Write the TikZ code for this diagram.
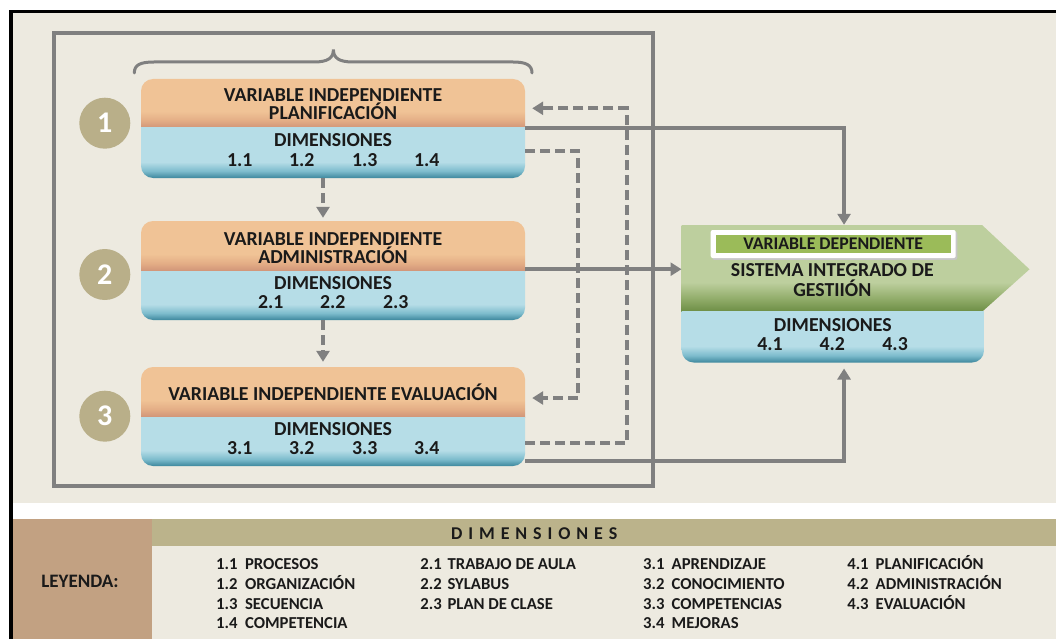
\documentclass[tikz,border=0pt]{standalone}
\usepackage{fontspec}
\setmainfont{Carlito}
\usetikzlibrary{arrows.meta}
\definecolor{bgb}{HTML}{EDEAE0}
\definecolor{orL}{HTML}{F0C396}
\definecolor{orM}{HTML}{E4AE86}
\definecolor{orD}{HTML}{D09478}
\definecolor{blL}{HTML}{B6DDE7}
\definecolor{blM}{HTML}{7DBCCD}
\definecolor{blD}{HTML}{3D879D}
\definecolor{grL}{HTML}{BDCF9E}
\definecolor{grM}{HTML}{93AE6C}
\definecolor{grD}{HTML}{6C8D44}
\definecolor{vgreen}{HTML}{9BBB59}
\definecolor{lc}{HTML}{808080}
\definecolor{circ}{HTML}{B9AF89}
\definecolor{hdr}{HTML}{BBB38B}
\definecolor{legb}{HTML}{C2A182}
\definecolor{txtc}{HTML}{1A1A1A}
\pgfdeclareverticalshading{orsh}{100bp}{color(0bp)=(orD); color(25bp)=(orD); color(33bp)=(orM); color(42bp)=(orL); color(100bp)=(orL)}
\pgfdeclareverticalshading{blsh}{100bp}{color(0bp)=(blD); color(25bp)=(blD); color(32bp)=(blM); color(41bp)=(blL); color(100bp)=(blL)}
\pgfdeclareverticalshading{grsh}{100bp}{color(0bp)=(grD); color(25bp)=(grD); color(33bp)=(grM); color(42bp)=(grL); color(100bp)=(grL)}
\newcommand{\ls}{\hspace{5.9pt}}
\begin{document}
\begin{tikzpicture}[x=1pt,y=-1pt,
  txt/.style={inner sep=0pt, anchor=base, font=\bfseries\fontsize{19.8}{19.8}\selectfont, text=txtc},
  leg/.style={inner sep=0pt, anchor=base west, font=\bfseries\fontsize{16.7}{16.7}\selectfont, text=txtc},
  part/.style={inner sep=0pt, minimum width=384pt},
  conn/.style={draw=lc, line width=4pt},
  dconn/.style={conn, dash pattern=on 10pt off 5pt},
  tip/.style={-{Triangle[length=11pt,width=13pt]}},
  num/.style={circle, fill=circ, minimum size=51pt, inner sep=0pt, text=white, font=\bfseries\fontsize{30}{30}\selectfont}]
\useasboundingbox (0,0) rectangle (1056,639);
% backgrounds
\fill[bgb] (12.5,13.3) rectangle (1056,503);
\fill[legb] (12.5,519) rectangle (151.5,639);
\fill[hdr] (151.5,519) rectangle (1056,546);
\fill[bgb] (151.5,546) rectangle (1056,639);
\draw[black, line width=3.3pt] (11,639) -- (11,11.7) -- (1056,11.7);
% gray frame
\draw[lc, line width=4pt] (53.7,33) rectangle (652.7,486);
% brace
\draw[lc, line width=3pt, line cap=round] (134.3,73) .. controls (134.3,65) and (140,62) .. (154,62) -- (314,62) .. controls (328,62) and (333.4,58) .. (333.4,49.5) .. controls (333.4,58) and (339,62) .. (353,62) -- (513,62) .. controls (526,62) and (532,65) .. (532,73);
% boxes
\foreach \yt/\ym/\yb in {79/128/178, 221/271/320, 367/417/466}{
  \begin{scope}
    \clip[rounded corners=12pt] (141,\yt) rectangle (525,\yb);
    \shade[shading=orsh] (141,\yt) rectangle (525,\ym);
    \shade[shading=blsh] (141,\ym) rectangle (525,\yb);
  \end{scope}
}
\node[part, minimum height=49pt] (b1t) at (333,103.5) {};
\node[part, minimum height=50pt] (b1d) at (333,153) {};
\node[part, minimum height=50pt] (b2t) at (333,246) {};
\node[part, minimum height=49pt] (b2d) at (333,295.5) {};
\node[part, minimum height=50pt] (b3t) at (333,392) {};
\node[part, minimum height=49pt] (b3d) at (333,441.5) {};
% circles
\node[num] (c1) at (104.8,123.2) {1};
\node[num] (c2) at (104.8,274.5) {2};
\node[num] (c3) at (104.8,416.2) {3};
% box texts
\node[txt] (t1a) at (333,101.7) {VARIABLE INDEPENDIENTE};
\node[txt] (t1b) at (333,120) {PLANIFICACIÓN};
\node[txt] (d1) at (333,146.7) {DIMENSIONES};
\node[txt] (n11) at (239.7,166.7) {1.1};
\node[txt] (n12) at (301.7,166.7) {1.2};
\node[txt] (n13) at (364.7,166.7) {1.3};
\node[txt] (n14) at (426.7,166.7) {1.4};
\node[txt] (t2a) at (333,245) {VARIABLE INDEPENDIENTE};
\node[txt] (t2b) at (333,263.3) {ADMINISTRACIÓN};
\node[txt] (d2) at (333,289.3) {DIMENSIONES};
\node[txt] (n21) at (270.7,308.3) {2.1};
\node[txt] (n22) at (332.7,308.3) {2.2};
\node[txt] (n23) at (395.7,308.3) {2.3};
\node[txt] (t3a) at (333,400) {VARIABLE INDEPENDIENTE EVALUACIÓN};
\node[txt] (d3) at (333,435.7) {DIMENSIONES};
\node[txt] (n31) at (239.7,454.3) {3.1};
\node[txt] (n32) at (301.7,454.3) {3.2};
\node[txt] (n33) at (364.7,454.3) {3.3};
\node[txt] (n34) at (426.7,454.3) {3.4};
% dependent variable
\shade[shading=grsh] (681.7,225) -- (982,225) -- (1029.5,269.3) -- (982,311.8) -- (681.7,311.8) -- cycle;
\begin{scope}
  \clip[rounded corners=12pt] (681.7,290) rectangle (984,362.5);
  \shade[shading=blsh] (681.7,311.8) rectangle (984,362.5);
\end{scope}
\node[inner sep=0pt, minimum width=300.3pt, minimum height=86.8pt] (g) at (831.85,268.4) {};
\node[inner sep=0pt, minimum width=302.3pt, minimum height=50.7pt] (rd) at (832.85,337.15) {};
\fill[black!22, rounded corners=2pt] (712.2,231.8) rectangle (957.3,259.8);
\node[fill=white, rounded corners=2pt, minimum width=245pt, minimum height=28pt, inner sep=0pt] (vdw) at (833.2,244) {};
\node[fill=vgreen, minimum width=235pt, minimum height=18pt, inner sep=0pt, text=txtc, font=\bfseries\fontsize{17.8}{17.8}\selectfont] (vd) at (833.2,244) {VARIABLE DEPENDIENTE};
\node[txt] (ga) at (832.3,276) {SISTEMA INTEGRADO DE};
\node[txt] (gb) at (832.3,296.7) {GESTIIÓN};
\node[txt] (d4) at (832.8,331.7) {DIMENSIONES};
\node[txt] (n41) at (770,350.7) {4.1};
\node[txt] (n42) at (832.3,350.7) {4.2};
\node[txt] (n43) at (895.1,350.7) {4.3};
% connectors
\draw[dconn, tip] ([xshift=-10pt]b1d.south) -- ([xshift=-10pt,yshift=3pt]b2t.north);
\draw[dconn, tip] ([xshift=-10pt]b2d.south) -- ([xshift=-10pt,yshift=5pt]b3t.north);
\draw[dconn, tip] ([yshift=2pt]b1d.east) -- ++(52.7,0) |- ([xshift=7pt,yshift=-6pt]b3t.east);
\draw[dconn, tip] ([yshift=-1.5pt]b3d.east) -- ++(101.7,0) |- ([xshift=7pt,yshift=-4.8pt]b1t.east);
\draw[conn, tip] (b1t.south east) -| ([xshift=12.2pt]g.north);
\draw[conn, tip] ([yshift=2pt]b2t.south east) -- ([yshift=2pt]b2t.south east -| g.west);
\draw[conn, tip] ([yshift=5pt]b3d.south east) -| ([xshift=11.2pt,yshift=-5.8pt]rd.south);
% legend
\node[txt, font=\bfseries\fontsize{19}{19}\selectfont] (ley) at (80,587.7) {LEYENDA:};
\node[txt, font=\bfseries\fontsize{18}{18}\selectfont] (hd) at (534.3,539) {D\ls I\ls M\ls E\ls N\ls S\ls I\ls O\ls N\ls E\ls S};
\node[leg] (l11) at (216,569) {\makebox[28.9pt][l]{1.1}PROCESOS};
\node[leg] (l12) at (216,589) {\makebox[28.9pt][l]{1.2}ORGANIZACIÓN};
\node[leg] (l13) at (216,609) {\makebox[28.9pt][l]{1.3}SECUENCIA};
\node[leg] (l14) at (216,628.5) {\makebox[28.9pt][l]{1.4}COMPETENCIA};
\node[leg] (l21) at (420.2,569) {\makebox[27.2pt][l]{2.1}TRABAJO DE AULA};
\node[leg] (l22) at (420.2,589) {\makebox[27.2pt][l]{2.2}SYLABUS};
\node[leg] (l23) at (420.2,609) {\makebox[27.2pt][l]{2.3}PLAN DE CLASE};
\node[leg] (l31) at (643,569) {\makebox[28.5pt][l]{3.1}APRENDIZAJE};
\node[leg] (l32) at (643,589) {\makebox[28.5pt][l]{3.2}CONOCIMIENTO};
\node[leg] (l33) at (643,609) {\makebox[28.5pt][l]{3.3}COMPETENCIAS};
\node[leg] (l34) at (643,628.5) {\makebox[28.5pt][l]{3.4}MEJORAS};
\node[leg] (l41) at (847.1,569) {\makebox[28.4pt][l]{4.1}PLANIFICACIÓN};
\node[leg] (l42) at (847.1,589) {\makebox[28.4pt][l]{4.2}ADMINISTRACIÓN};
\node[leg] (l43) at (847.1,609) {\makebox[28.4pt][l]{4.3}EVALUACIÓN};
\end{tikzpicture}
\end{document}
